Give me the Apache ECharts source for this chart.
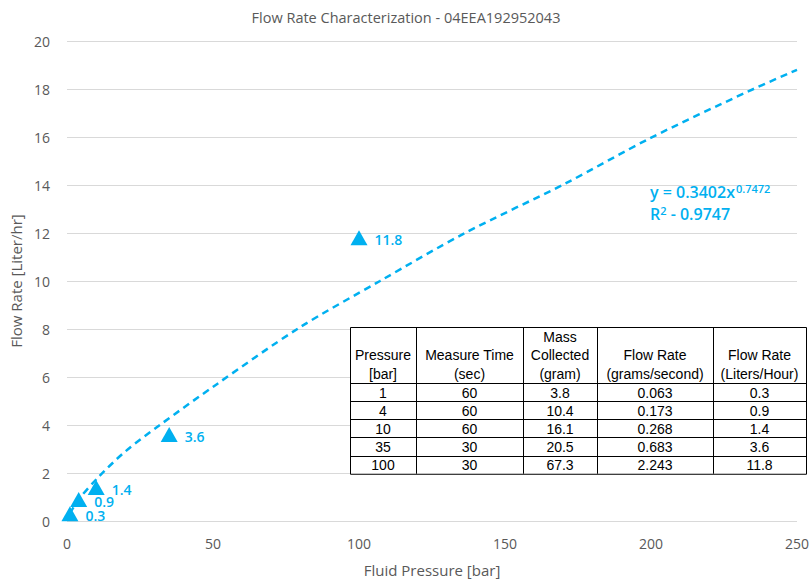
<!DOCTYPE html>
<html><head><meta charset="utf-8">
<script src="https://cdn.jsdelivr.net/npm/echarts@6/dist/echarts.min.js"></script>
<style>html,body{margin:0;padding:0;background:#fff}#c{width:812px;height:582px}</style>
</head><body><div id="c"></div><script>
// ---- data ----
const pressure = [1, 4, 10, 35, 100];
const flowRateLh = [0.3, 0.9, 1.4, 3.6, 11.8];
const measureTime = ['60', '60', '60', '30', '30'];
const massCollected = ['3.8', '10.4', '16.1', '20.5', '67.3'];
const flowRateGs = ['0.063', '0.173', '0.268', '0.683', '2.243'];
const flowRateLhText = ['0.3', '0.9', '1.4', '3.6', '11.8'];
const pressureText = ['1', '4', '10', '35', '100'];
// dashed trendline
const trendX = [1, 4, 11, 20, 31.8, 50.7, 79.5, 107.2, 136.3, 170.5, 199.7, 233.3, 250];
const trendY = [0.32, 0.9, 1.86, 2.9, 4.0, 5.65, 8.05, 10.0, 12.0, 14.05, 15.95, 17.9, 18.8];
const tableHeaders = [['Pressure', '[bar]'], ['Measure Time', '(sec)'], ['Mass', 'Collected', '(gram)'], ['Flow Rate', '(grams/second)'], ['Flow Rate', '(Liters/Hour)']];
const titleText = 'Flow Rate Characterization - 04EEA192952043';
const xName = 'Fluid Pressure [bar]';
const yName = 'Flow Rate [Liter/hr]';
const eqCoef = '0.3402', eqExp = '0.7472', r2 = '0.9747';
const xMin = 0, xMax = 250, xStep = 50;
const yMin = 0, yMax = 20, yStep = 2;

// ---- layout ----
const BLUE = '#00B0F0';
const GRAY = '#595959';
const colEdges = [350, 416, 523, 597, 713, 806];
const headerTop = 327, headerBottom = 383, rowH = 18.15;

const tableCols = [pressureText, measureTime, massCollected, flowRateGs, flowRateLhText];
const g = [];
const tableBottom = headerBottom + rowH * pressure.length;
g.push({type: 'rect', shape: {x: colEdges[0] + 0.5, y: headerTop + 0.5, width: colEdges[5] - colEdges[0], height: tableBottom - headerTop},
  style: {fill: '#fff', stroke: '#000', lineWidth: 1}, z: 10});
for (let i = 1; i < colEdges.length - 1; i++) {
  g.push({type: 'line', shape: {x1: colEdges[i] + 0.5, y1: headerTop, x2: colEdges[i] + 0.5, y2: tableBottom}, style: {stroke: '#000', lineWidth: 1}, z: 11});
}
for (let r = 0; r < pressure.length; r++) {
  const y = Math.round(headerBottom + rowH * r) + 0.5;
  g.push({type: 'line', shape: {x1: colEdges[0], y1: y, x2: colEdges[5], y2: y}, style: {stroke: '#000', lineWidth: 1}, z: 11});
}
const tfont = '14px "Liberation Sans", Arial, sans-serif';
tableHeaders.forEach((lines, c) => {
  const cx = (colEdges[c] + colEdges[c + 1]) / 2;
  lines.forEach((t, k) => {
    const y = headerBottom - 9.5 - (lines.length - 1 - k) * 18.3;
    g.push({type: 'text', x: cx, y: y, style: {text: t, font: tfont, fill: '#000', align: 'center', verticalAlign: 'middle'}, z: 12});
  });
});
tableCols.forEach((col, c) => {
  const cx = (colEdges[c] + colEdges[c + 1]) / 2;
  col.forEach((t, r) => {
    g.push({type: 'text', x: cx, y: headerBottom + rowH * r + rowH / 2 + 0.5, style: {text: t, font: tfont, fill: '#000', align: 'center', verticalAlign: 'middle'}, z: 12});
  });
});
// equation (two separate lines so they do not overlap)
g.push({type: 'text', left: 650, top: 183, style: {
  rich: {
    a: {fontSize: 16, fontFamily: '"Open Sans"', fill: BLUE, fontWeight: 600},
    s: {fontSize: 11, fontFamily: '"Open Sans"', fill: BLUE, fontWeight: 600, verticalAlign: 'top', padding: [0, 0, 7, 1]}
  },
  text: '{a|y = ' + eqCoef + 'x}{s|' + eqExp + '}'
}, z: 12});
g.push({type: 'text', left: 650, top: 205, style: {
  rich: {
    a: {fontSize: 16, fontFamily: '"Open Sans"', fill: BLUE, fontWeight: 600},
    s: {fontSize: 11, fontFamily: '"Open Sans"', fill: BLUE, fontWeight: 600, verticalAlign: 'top', padding: [0, 0, 7, 0]}
  },
  text: '{a|R}{s|2}{a| - ' + r2 + '}'
}, z: 12});

const chart = echarts.init(document.getElementById('c'), null, {renderer: 'svg'});
chart.setOption({
  animation: false,
  backgroundColor: '#fff',
  title: {text: titleText, left: 'center', top: 5, textStyle: {fontFamily: '"Open Sans"', fontSize: 14.5, fontWeight: 'normal', color: GRAY}},
  grid: {left: 67, right: 15, top: 41, bottom: 58, containLabel: false},
  xAxis: {type: 'value', min: xMin, max: xMax, interval: xStep,
    name: xName, nameLocation: 'middle', nameGap: 41,
    nameTextStyle: {fontFamily: '"Open Sans"', fontSize: 15, color: GRAY},
    axisLine: {show: false}, axisTick: {show: false},
    axisLabel: {fontFamily: '"Open Sans"', fontSize: 14, color: GRAY, margin: 15},
    splitLine: {show: false}},
  yAxis: {type: 'value', min: yMin, max: yMax, interval: yStep,
    name: yName, nameLocation: 'middle', nameGap: 43, nameRotate: 90,
    nameTextStyle: {fontFamily: '"Open Sans"', fontSize: 15, color: GRAY},
    axisLine: {show: false}, axisTick: {show: false},
    axisLabel: {fontFamily: '"Open Sans"', fontSize: 14, color: GRAY, margin: 17},
    splitLine: {lineStyle: {color: '#D9D9D9', width: 1}}},
  series: [
    {type: 'line', data: trendX.map((x, i) => [x, trendY[i]]), smooth: 0.3, showSymbol: false, symbol: 'none',
      lineStyle: {color: BLUE, width: 2.5, type: [7, 5]}, z: 2, silent: true},
    {type: 'scatter', data: pressure.map((x, i) => [x, flowRateLh[i]]), symbol: 'triangle', symbolSize: [17, 15],
      itemStyle: {color: BLUE, opacity: 1}, z: 3,
      label: {show: true, position: 'right', distance: 7, offset: [0, 2], formatter: p => flowRateLhText[p.dataIndex],
        fontFamily: '"Open Sans"', fontSize: 14, lineHeight: 12, fontWeight: 600, color: BLUE}}
  ],
  graphic: g
});
</script></body></html>
